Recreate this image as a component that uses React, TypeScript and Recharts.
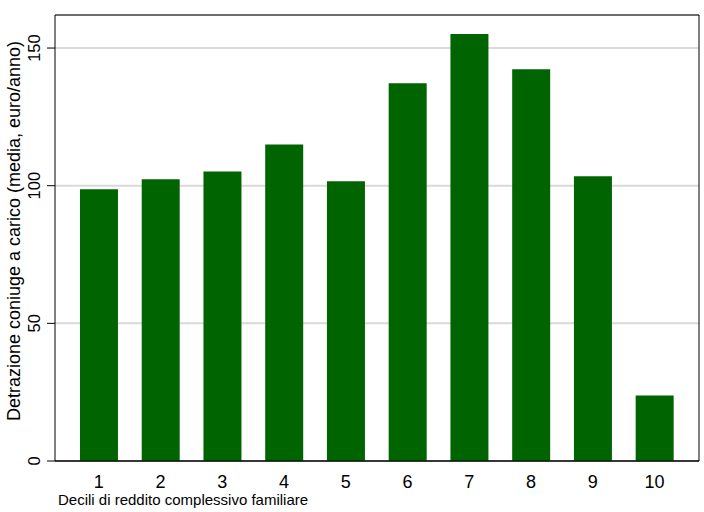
import React from "react";
import {
  BarChart,
  Bar,
  XAxis,
  YAxis,
  CartesianGrid,
  ReferenceArea,
} from "recharts";

const deciles = [1, 2, 3, 4, 5, 6, 7, 8, 9, 10];
const detrazione = [98.7, 102.3, 105.2, 115.0, 101.6, 137.2, 155.1, 142.3, 103.4, 23.8];
const yTicks = [0, 50, 100, 150];

const X_DOMAIN: [number, number] = [0.29, 10.72];
const Y_DOMAIN: [number, number] = [0, 162];
const FONT = "'Liberation Sans', Arial, sans-serif";

const data = deciles.map((d, i) => ({ decile: d, value: detrazione[i] }));

function YTick(props: any) {
  const { x, y, payload } = props;
  const tx = x - 5;
  return (
    <text
      x={tx}
      y={y}
      transform={`rotate(-90, ${tx}, ${y})`}
      textAnchor="middle"
      fontSize={16.5}
      fontFamily={FONT}
      fill="#000"
    >
      {payload.value}
    </text>
  );
}

function YTitle() {
  return (
    <text
      x={20}
      y={231}
      transform="rotate(-90, 20, 231)"
      textAnchor="middle"
      fontSize={18}
      fontFamily={FONT}
      fill="#000"
    >
      Detrazione coniuge a carico (media, euro/anno)
    </text>
  );
}

function XTitle() {
  return (
    <text x={58} y={505} fontSize={15} fontFamily={FONT} fill="#000">
      Decili di reddito complessivo familiare
    </text>
  );
}

export default function App() {
  return (
    <div style={{ position: "absolute", left: 0, top: 0, width: 704, height: 512, background: "#fff" }}>
      <BarChart
        width={704}
        height={512}
        data={data}
        margin={{ top: 15, right: 5, left: 0, bottom: 0 }}
      >
        <CartesianGrid vertical={false} stroke="#d9d9d9" strokeWidth={2} />
        <XAxis
          dataKey="decile"
          type="number"
          domain={X_DOMAIN}
          ticks={deciles}
          allowDataOverflow
          height={51}
          tickLine={false}
          axisLine={{ stroke: "#000", strokeWidth: 1 }}
          tick={{ fontSize: 18, fontFamily: FONT, fill: "#000", dy: 6 }}
          label={{ content: () => <XTitle /> }}
        />
        <YAxis
          type="number"
          domain={Y_DOMAIN}
          ticks={yTicks}
          allowDataOverflow
          width={55}
          tickSize={8}
          tickLine={{ stroke: "#000", strokeWidth: 1 }}
          axisLine={false}
          tick={<YTick />}
          label={{ content: () => <YTitle /> }}
        />
        <Bar dataKey="value" fill="#006400" barSize={38} isAnimationActive={false} />
        <ReferenceArea
          x1={X_DOMAIN[0]}
          x2={X_DOMAIN[1]}
          y1={Y_DOMAIN[0]}
          y2={Y_DOMAIN[1]}
          fill="none"
          fillOpacity={0}
          stroke="#000"
          strokeWidth={1}
        />
      </BarChart>
    </div>
  );
}
